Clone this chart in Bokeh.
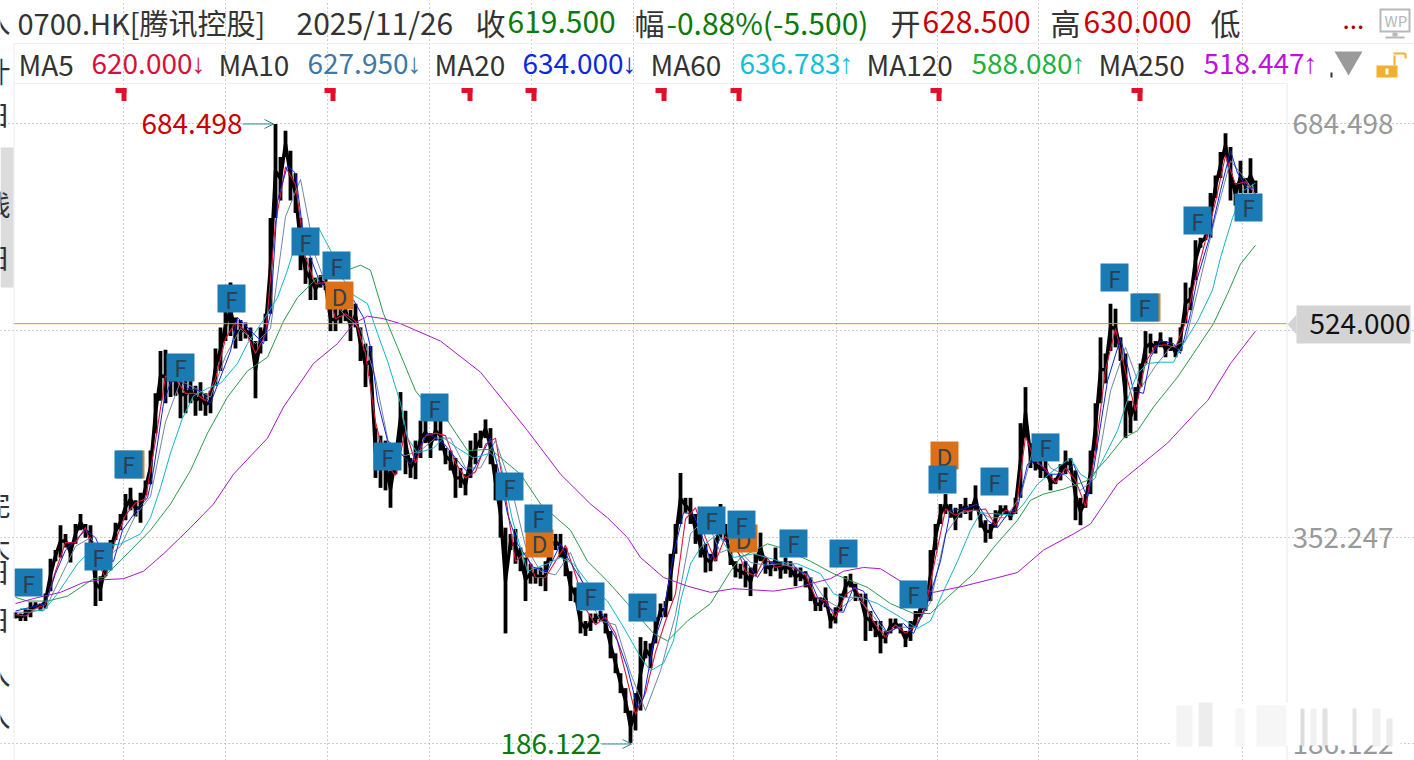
from bokeh.plotting import figure
from bokeh.embed import file_html
from bokeh.resources import INLINE
from bokeh.core.properties import value
from bokeh.models import (Range1d, FixedTicker, Label, BoxAnnotation,
                          PolyAnnotation, Arrow, OpenHead, ColumnDataSource)

FONT = "Noto Sans CJK SC"

# ---------- data (x = session number, y = price) ----------
bar_session = list(range(0, 1245, 5))
bar_high = [
    292,291,295,300,300,299,307,335,342,362,
    355,348,363,371,363,362,333,321,338,350,
    364,371,387,392,382,388,398,422,468,502,
    503,494,490,486,482,482,474,477,468,470,
    504,521,534,557,529,527,525,521,510,521,
    532,609,684.5,658,679,663,645,609,577,577,
    561,563,560,537,536,537,543,535,540,521,
    508,506,440,434,430,406,428,469,454,416,
    430,446,446,436,446,446,424,422,416,408,
    403,430,436,438,447,440,411,390,360,355,
    359,344,336,331,328,328,333,358,355,355,
    344,325,312,293,285,291,291,293,291,277,
    259,243,231,213,227,272,269,267,288,299,
    301,339,363,404,384,384,371,355,347,339,
    352,379,363,342,333,331,333,328,339,356,
    336,333,344,333,336,333,328,328,325,320,
    304,304,312,291,296,307,321,323,315,307,
    307,293,285,285,277,287,287,283,277,285,
    293,301,301,342,363,379,387,379,376,379,
    384,379,394,371,366,363,374,378,378,371,
    384,444,473,428,416,414,414,403,400,411,
    422,416,406,384,387,422,460,513,500,540,
    536,513,500,462,473,492,518,516,510,517,
    510,513,505,521,557,553,591,593,595,629,
    643,662,677,666,637,655,641,657,639]
bar_low = [
    287,285,285,288,295,293,295,309,333,336,
    344,332,347,358,352,347,297,301,321,333,
    350,358,366,374,369,364,386,395,436,462,
    460,465,466,448,452,460,450,454,450,452,
    474,486,510,514,504,510,512,510,464,500,
    510,532,609,623,658,623,613,567,556,543,
    543,553,551,518,518,524,526,510,521,494,
    473,482,400,392,390,376,403,428,403,400,
    399,416,428,416,430,422,411,406,384,392,
    386,400,411,424,432,411,382,352,275,342,
    331,325,301,315,315,313,309,333,342,336,
    321,301,300,275,273,277,283,285,275,255,
    243,227,211,187,197,213,255,247,267,288,
    288,301,339,363,372,363,347,336,324,325,
    333,352,350,330,320,319,312,305,323,333,
    323,321,325,319,323,320,313,317,312,301,
    293,293,296,279,283,293,304,312,301,301,
    269,277,272,259,267,275,279,275,264,269,
    280,288,293,301,342,363,371,368,358,368,
    371,366,374,360,348,351,360,370,371,366,
    371,384,432,408,406,400,400,390,395,398,
    403,406,366,362,376,387,422,460,476,502,
    505,494,432,436,446,473,492,500,500,505,
    497,502,497,502,524,535,559,585,591,593,
    625,641,658,623,619,629,629,629,629]

ma5_session = list(range(0, 1241, 10))
ma5 = [290,289,295,298,325,348,348,360,335,320,350,370,380,383,430,482,480,468,468,462,
       480,512,525,518,500,515,605,650,636,577,556,557,528,532,526,500,445,412,402,438,
       412,434,436,434,412,400,405,427,432,385,333,340,320,320,333,346,322,295,282,288,
       275,243,210,227,260,285,307,367,376,352,333,353,346,325,321,337,328,330,327,322,
       304,301,288,306,312,296,282,272,282,275,281,296,336,375,370,374,374,375,362,374,
       372,433,414,407,396,408,398,377,422,487,520,485,454,493,506,507,505,525,560,591,
       622,659,636,638,628]

ma10_session = list(range(0, 1231, 15)) + [1240]
ma10 = [292,292,295,320,345,352,335,345,370,385,445,478,472,465,498,520,508,520,610,640,
        578,545,530,520,480,420,418,422,432,432,408,408,430,395,345,325,322,340,310,285,
        282,243,213,245,290,355,368,340,345,332,330,331,328,320,302,295,305,292,276,280,
        280,300,355,372,374,368,368,385,430,408,402,390,400,470,505,472,490,505,510,560,
        610,655,640,628]

ma20_session = [0,30,40,50,70,80,90,98,107,122,132,138,148,158,172,185,195,205,215,222,238,248,255,262,
                272,280,287,295,305,320,338,348,355,362,372,382,385,395,412,428,445,455,475,485,492,502,
                518,532,545,552,562,585,602,612,622,628,638,648,658,668,678,688,695,705,718,732,742,752,
                762,775,783,792,802,818,828,838,848,858,872,888,898,912,925,935,948,962,972,982,992,1002,
                1012,1022,1032,1048,1058,1072,1078,1092,1105,1110,1118,1128,1135,1145,1158,1165,1175,1182,
                1195,1205,1215,1222,1232,1240]
ma20 = [293,299,323,342,358,352,333,333,358,375,384,406,460,484,472,470,460,481,502,529,516,508,532,623,
        651,645,601,577,556,551,543,529,505,462,430,424,420,411,436,428,411,402,432,400,371,347,
        328,325,347,336,323,293,269,247,215,223,267,291,339,372,371,350,334,352,344,331,320,333,
        331,333,325,323,304,293,292,312,309,293,275,283,275,299,333,374,375,379,366,360,371,376,
        411,414,403,403,411,384,406,478,512,497,470,468,497,510,508,500,532,561,
        596,631,663,645,633,633]

ma60_session = [5,28,42,62,78,105,125,135,145,155,167,178,192,205,222,232,248,262,272,278,290,303,315,325,338,352,
                362,372,385,392,402,418,428,442,458,475,485,497,512,532,545,558,575,592,608,625,635,648,658,665,
                675,685,702,718,738,752,772,782,805,818,828,845,862,885,902,915,928,942,955,965,982,998,1008,
                1022,1038,1055,1065,1075,1085,1102,1115,1122,1132,1145,1158,1165,1182,1197,1205,1217,1228,1240]
ma60 = [295,293,307,331,344,347,355,368,392,420,448,466,472,476,492,508,527,545,567,583,595,601,583,563,547,540,
        516,494,460,432,420,424,432,424,416,420,412,366,325,331,336,331,313,301,280,256,245,251,269,301,
        331,344,355,336,339,336,331,331,323,307,304,304,299,288,279,285,309,333,358,372,371,370,379,
        395,406,416,403,398,411,438,470,484,492,493,493,504,526,551,577,609,631,637]

ma120_session = [0,12,32,52,65,78,88,108,135,155,175,192,212,232,252,268,282,302,320,335,345,355,368,382,400,420,432,
                 452,475,505,525,555,572,592,612,638,652,672,695,715,725,752,765,795,818,852,875,898,915,932,958,
                 978,1002,1015,1028,1048,1072,1092,1108,1122,1138,1162,1178,1198,1212,1225,1240]
ma120 = [304,301,301,305,312,319,320,336,358,379,406,436,465,486,497,526,545,561,567,568,571,567,532,505,470,450,446,
         422,423,403,379,358,333,317,299,275,269,285,299,325,336,347,344,333,323,312,299,291,291,304,323,
         344,366,382,387,391,398,416,432,438,457,481,500,524,548,572,587]

ma250_session = [0,18,45,68,85,108,128,148,175,198,218,252,268,298,322,338,352,368,385,425,465,488,512,545,575,592,
                 612,625,648,672,695,718,758,782,795,815,828,848,865,885,918,948,978,1002,1028,1058,1075,1102,1152,
                 1182,1192,1215,1240]
ma250 = [299,303,308,316,318,319,325,339,360,379,403,432,457,492,508,524,530,528,524,510,485,462,438,403,379,368,
         352,336,320,313,308,311,309,312,315,319,325,328,327,317,308,313,319,324,342,355,363,395,428,
         454,462,492,518]

f_session = [13,83,113,165,216,290,321,372,419,494,523,575,627,696,726,778,828,898,927,979,1030,1099,1129,1182,1233]
f_price = [315.9,336.8,410.8,488.8,544.2,590.0,570.7,417.2,456.6,393.1,367.4,304.7,295.8,365.8,362.5,347.3,339.2,
           306.3,398.7,397.1,424.5,561.1,537.0,606.9,617.4]
d_session = [324,524,728,929]
d_price = [546.6,347.3,351.3,418.0]
d_hidden_session = [115,1131]
d_hidden_price = [410.8,537.0]

flag_session = [111,320,457,521,651,726,926,1127]
grid_session = [107.5,209.5,311.5,413.5,515.5,618,718,820.5,921.5,1023,1122,1227]
grid_price = [684.498,518.37,352.247,186.122]
axis_price = [684.498,352.247,186.122]
axis_label = ["684.498","352.247","186.122"]
high_price, low_price, last_mark = 684.498, 186.122, 524.0
high_session, low_session = 258, 616

PLOT_X = (-2, 1271.7)     # sessions covered by the chart panel
PLOT_Y = (172.85, 717.05) # prices covered by the chart panel

p = figure(width=1414, height=760, output_backend="svg", toolbar_location=None,
           x_range=Range1d(-15, 1399), y_range=Range1d(172.85, 783.77),
           x_axis_location=None, y_axis_location=None,
           min_border_left=0, min_border_right=0, min_border_top=0, min_border_bottom=0,
           outline_line_color=None, background_fill_color="white", border_fill_color="white")

p.xgrid[0].ticker = FixedTicker(ticks=grid_session)
p.xgrid[0].bounds = PLOT_Y
p.ygrid[0].ticker = FixedTicker(ticks=grid_price)
p.ygrid[0].bounds = PLOT_X
for g in (p.xgrid[0], p.ygrid[0]):
    g.grid_line_color = "#9c9c9c"
    g.grid_line_dash = "1 3"
    g.grid_line_width = 1

# price path
bars = ColumnDataSource(dict(x=bar_session, high=bar_high, low=bar_low,
                             mid=[(a + b) / 2 for a, b in zip(bar_high, bar_low)]))
p.line("x", "mid", source=bars, line_color="black", line_width=3.4)
p.segment("x", "high", "x", "low", source=bars, line_color="black", line_width=3.8)

p.line(ma5_session, ma5, line_color="#e0143c", line_width=1.1)
p.line(ma10_session, ma10, line_color="#6f86a6", line_width=1)
p.line(ma20_session, ma20, line_color="#1226d8", line_width=1)
p.line(ma60_session, ma60, line_color="#14b4c8", line_width=1)
p.line(ma120_session, ma120, line_color="#2a9a4a", line_width=1)
p.line(ma250_session, ma250, line_color="#a818c8", line_width=1)

p.line(list(PLOT_X), [last_mark, last_mark], line_color="#e09020", line_width=1)

# flags across the top
n_flags = len(flag_session)
p.quad(left=[s - 11 for s in flag_session], right=flag_session, top=[713.5] * n_flags, bottom=[709.5] * n_flags,
       fill_color="#e0102a", line_color=None)
p.quad(left=[s - 5 for s in flag_session], right=flag_session, top=[713.5] * n_flags, bottom=[703] * n_flags,
       fill_color="#e0102a", line_color=None)

# badges
p.rect(d_hidden_session, d_hidden_price, width=28, height=28, width_units="screen", height_units="screen",
       fill_color="#c9833f", line_color=None)
p.rect(d_session, d_price, width=28, height=28, width_units="screen", height_units="screen",
       fill_color="#dc7018", line_color=None)
p.text(d_session, d_price, text=["D"] * len(d_session), text_align="center", text_baseline="middle",
       text_font=value(FONT), text_font_size="23px", text_color="#34404a")
p.rect(f_session, f_price, width=28, height=28, width_units="screen", height_units="screen",
       fill_color="#1a7ab4", line_color=None)
p.text(f_session, f_price, text=["F"] * len(f_session), text_align="center", text_baseline="middle",
       text_font=value(FONT), text_font_size="23px", text_color="#2c3e50")

# extreme markers
p.add_layout(Arrow(end=OpenHead(size=9, line_color="#2f8a9a", line_width=1), line_color="#2f8a9a", line_width=1,
                   x_start=high_session - 31, y_start=high_price, x_end=high_session, y_end=high_price))
p.add_layout(Arrow(end=OpenHead(size=9, line_color="#2f8a9a", line_width=1), line_color="#2f8a9a", line_width=1,
                   x_start=low_session - 30, y_start=low_price, x_end=low_session, y_end=low_price))
p.text([high_session - 31], [high_price], text=["684.498"], text_align="right", text_baseline="middle",
       text_font=value(FONT), text_font_size="28px", text_color="#c80000")
p.text([low_session - 30], [low_price], text=["186.122"], text_align="right", text_baseline="middle",
       text_font=value(FONT), text_font_size="28px", text_color="#0a7a0a")

# right-hand price scale
p.text([1277] * len(axis_price), axis_price, text=axis_label, text_align="left", text_baseline="middle",
       text_font=value(FONT), text_font_size="28px", text_color="#999999")


def box(l, t, r, b, color, alpha=1.0, level="annotation"):
    p.add_layout(BoxAnnotation(left=l, right=r, top=t, bottom=b, left_units="canvas", right_units="canvas",
                               top_units="canvas", bottom_units="canvas", fill_color=color, fill_alpha=alpha,
                               line_color=None, level=level, editable=False))


def txt(x, y, s, color, size=29, font=FONT):
    p.add_layout(Label(x=x, y=y, x_units="canvas", y_units="canvas", text=s, text_color=color,
                       text_font=font, text_font_size=f"{size}px", text_baseline="middle"))


def poly(xs, ys, color):
    p.add_layout(PolyAnnotation(xs=xs, ys=ys, xs_units="canvas", ys_units="canvas", fill_color=color,
                                fill_alpha=1, line_color=None))


# separators
box(13, 42.5, 1414, 43.5, "#eeeeee")
box(13, 82.5, 1286, 83.5, "#eeeeee")
box(13, 43, 14, 760, "#eeeeee")
box(1286, 83, 1287, 760, "#e8e8e8")

# header
DARK = "#333333"
GREEN = "#0a7a0a"
RED = "#c80000"
txt(17, 21, "0700.HK[腾讯控股]", DARK, 29)
for x, s, c in [(296, "2025/11/26", DARK), (475, "收", DARK), (507, "619.500", GREEN),
                (634, "幅", DARK), (666, "-0.88%(-5.500)", GREEN), (890, "开", DARK), (922, "628.500", RED),
                (1050, "高", DARK), (1083, "630.000", RED), (1210, "低", DARK)]:
    txt(x, 21, s, c, 30)
txt(1342, 19, "...", "#a80000", 26)
for x, s, c in [(18, "MA5", DARK), (91, "620.000", "#d6103a"), (218, "MA10", DARK), (307, "627.950", "#3c78a8"),
                (434, "MA20", DARK), (522, "634.000", "#0a28e0"), (650, "MA60", DARK), (739, "636.783", "#10c0d8"),
                (866, "MA120", DARK), (971, "588.080", "#22b040"), (1098, "MA250", DARK), (1203, "518.447", "#c010e0")]:
    txt(x, 63, s, c, 28)
for x, s, c in [(191, "↓", "#d6103a"), (407, "↓", "#3c78a8"), (622, "↓", "#0a28e0"),
                (839, "↑", "#10c0d8"), (1071, "↑", "#22b040"), (1303, "↑", "#c010e0")]:
    txt(x, 63, s, c, 28, "Liberation Sans")

# top-right icons
box(1379, 8, 1410, 32, "#b8b8b8")
box(1381, 10, 1408, 30, "#ffffff")
txt(1384, 20, "WP", "#b8b8b8", 15)
box(1392, 32, 1397, 36, "#b8b8b8")
box(1385, 36, 1404, 38, "#b8b8b8")
poly([1334, 1362, 1348], [51, 51, 75], "#9a9a9a")
box(1376, 65, 1397, 77, "#f0b030")
box(1385, 68, 1388, 74, "#ffffff")
box(1393, 55, 1395, 65, "#f0b030")
box(1393, 52, 1405, 54, "#f0b030")
box(1404, 53, 1406, 58, "#f0b030")
box(1330, 72, 1332, 77, "#333333")

# left rail
box(0, 147, 13, 287, "#dcdcdc")
for y, s in [(20, "入"), (70, "计"), (113, "日"), (203, "线"), (256, "日"), (503, "完"), (545, "大"), (570, "日"),
             (618, "日"), (672, "入"), (714, "入"), (750, "E")]:
    txt(-18, y, s, DARK, 28)

# last-price callout
poly([1287, 1296, 1296], [324, 314, 334], "#d4d4d4")
box(1296, 305, 1410, 343, "#d4d4d4")
txt(1309, 323, "524.000", "#111111", 28)

# blurred watermark
box(1170, 702, 1400, 745, "#ffffff", level="overlay")
for l, r, t, a in [(1176, 1192, 705, .10), (1198, 1212, 702, .16), (1235, 1244, 708, .08), (1256, 1286, 705, .08),
                   (1300, 1304, 708, .30), (1310, 1316, 708, .12), (1322, 1327, 708, .26), (1352, 1356, 708, .24),
                   (1372, 1380, 708, .12), (1386, 1392, 718, .18)]:
    box(l, t, r, 746, "#8f8f8f", a, level="overlay")

open("out.html", "w").write(file_html(p, INLINE))
